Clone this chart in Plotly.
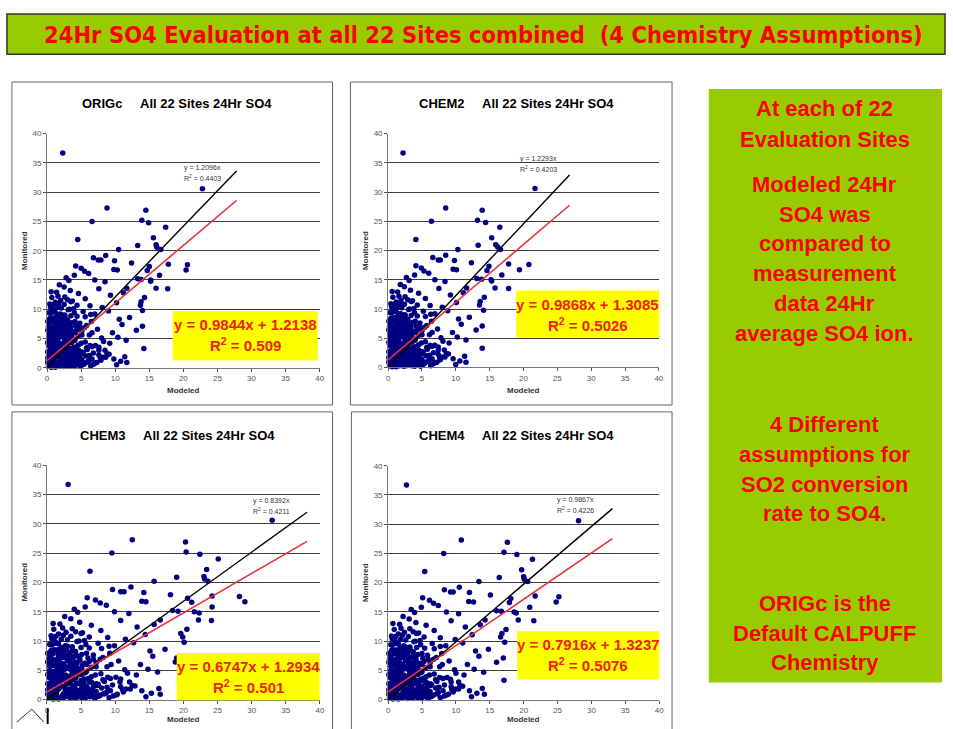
import plotly.graph_objects as go

# ---------------- DATA ----------------
panel_names = ["ORIGc", "CHEM2", "CHEM3", "CHEM4"]

# Monitored 24Hr SO4 (shared by all panels)
monitored = [
    36.7, 30.6, 27.3, 26.9, 25.0, 25.2, 24.8, 24.0, 21.9, 20.9,
    22.2, 21.0, 20.6, 20.2, 20.2, 17.6, 16.7, 17.7, 13.5, 15.8,
    17.3, 16.6, 15.1, 15.0, 14.8, 13.6, 13.6, 15.2, 17.9, 3.3,
    8.6, 6.4, 11.3, 10.7, 12.0, 1.9, 4.7, 7.1, 9.8, 12.8,
    18.3, 16.8, 16.7, 19.2, 18.4, 18.4, 18.8, 17.4, 12.9, 10.8,
    13.8, 14.9, 15.8, 16.5, 17.0, 16.1, 14.7, 15.0, 13.5, 12.4,
    11.1, 10.3, 9.7, 8.3, 7.4, 6.0, 5.2, 4.2, 3.0, 1.5,
    2.2, 0.6, 1.2, 3.8, 5.1, 6.6, 7.9, 9.2, 10.6, 11.8,
    12.7, 11.4, 13.2, 12.1, 10.2, 11.0, 9.6, 8.8, 9.9, 8.1,
    7.2, 6.3, 5.6, 4.4, 3.1, 2.4, 1.6, 0.8, 3.6, 2.0,
    0.3, 0.5, 0.9, 1.1, 0.4, 0.7, 1.4, 1.8, 1.5, 1.0,
    0.6, 1.3, 2.1, 2.5, 2.3, 2.8, 2.0, 2.6, 1.7, 3.0,
    3.3, 3.5, 3.2, 3.7, 3.0, 3.9, 4.1, 4.3, 4.0, 4.5,
    4.8, 5.0, 5.3, 4.9, 5.4, 5.7, 5.9, 6.1, 5.8, 6.4,
    6.8, 7.0, 6.6, 7.3, 7.6, 7.8, 8.0, 8.5, 8.9, 9.3,
    9.5, 2.9, 1.2, 0.5, 0.2, 0.3, 2.7, 1.9, 3.4, 4.6,
    6.0, 7.0, 8.2, 6.9, 5.5, 8.6, 9.0, 10.0, 4.2, 1.0,
    0.2, 0.4, 0.6, 0.8, 1.0, 1.2, 1.4, 1.6, 1.8, 2.0,
    2.2, 2.4, 2.6, 2.8, 3.0, 3.2, 3.4, 3.6, 3.8, 4.0,
    4.2, 4.4, 4.6, 4.8, 5.0, 5.2, 5.4, 5.6, 5.8, 6.0,
    6.2, 6.4, 6.6, 6.8, 7.0, 7.2, 7.4, 7.6, 7.8, 8.0,
    0.3, 0.7, 1.1, 1.5, 1.9, 2.3, 2.7, 3.1, 3.5, 3.9,
    0.5, 1.0, 1.5, 2.0, 2.5, 3.0, 0.9, 1.8, 2.7, 3.6,
    8.4, 8.8, 9.2, 9.6, 10.0, 10.4, 10.8, 11.2, 11.6, 12.0,
    0.1, 0.3, 0.5, 0.8, 1.3, 0.2, 0.6, 1.0, 0.4, 0.9,
    4.3, 4.7, 5.1, 5.5, 5.9, 6.3, 6.7, 7.1, 7.5, 7.9,
    0.1, 0.4, 0.7, 1.0, 1.3, 1.6, 1.9, 2.2, 2.5, 2.8,
    3.1, 3.4, 3.7, 4.0, 4.3, 4.6, 4.9, 5.2, 5.5, 5.8,
    6.1, 6.4, 6.7, 7.0, 7.3, 7.6, 7.9, 8.2, 8.5, 8.8,
    9.1, 9.4, 9.7, 10.3, 10.9, 11.5, 12.2, 13.0, 14.2, 15.4,
    0.2, 0.6, 1.0, 1.4, 1.8, 2.2, 2.6, 3.0, 3.4, 3.8,
    0.3, 0.8, 1.3, 1.8, 2.3, 0.5, 1.1, 1.7, 2.4, 0.9,
    1.2, 1.7, 2.2, 2.7, 3.2, 3.7, 4.2, 4.7, 5.2, 5.7,
    0.8, 1.3, 1.8, 2.3, 2.8, 3.3, 3.8, 4.3, 4.8, 5.3,
    6.2, 6.5, 7.1, 7.7, 8.3, 8.9, 9.4, 10.1, 10.7, 11.3,
    5.6, 6.0, 6.9, 7.6, 8.7, 9.1, 3.5, 4.5, 2.1, 1.4,
]

modeled_origc = [
    2.3, 22.8, 8.8, 14.5, 6.6, 13.9, 14.9, 17.4, 4.5, 13.3,
    15.6, 16.0, 16.1, 16.7, 10.5, 20.6, 20.4, 17.8, 17.7, 16.5,
    15.0, 14.7, 13.8, 15.2, 15.2, 16.0, 11.7, 13.3, 12.4, 14.2,
    12.1, 13.1, 13.8, 13.7, 14.3, 11.4, 11.6, 14.0, 14.0, 11.2,
    9.9, 9.8, 10.3, 8.6, 7.9, 7.5, 6.8, 4.2, 1.4, 0.9,
    2.5, 3.2, 4.0, 5.5, 5.0, 6.1, 8.5, 7.0, 7.6, 9.3,
    10.2, 8.1, 9.0, 10.6, 11.0, 9.6, 10.4, 9.2, 8.5, 9.8,
    7.6, 6.8, 6.1, 7.1, 8.0, 7.4, 6.5, 7.0, 6.3, 5.6,
    4.6, 3.7, 3.4, 2.6, 2.1, 1.7, 5.3, 4.4, 3.1, 2.4,
    5.8, 5.1, 6.2, 5.6, 5.9, 5.2, 4.7, 5.5, 4.3, 3.9,
    0.2, 0.6, 0.3, 1.0, 1.4, 2.0, 0.5, 1.2, 1.9, 2.6,
    3.1, 3.5, 0.3, 0.8, 1.5, 2.2, 2.9, 3.6, 4.2, 0.5,
    1.1, 1.8, 2.5, 3.0, 3.8, 0.2, 0.9, 1.6, 2.3, 3.3,
    0.6, 1.3, 2.0, 2.7, 3.6, 0.3, 1.0, 1.7, 2.4, 3.0,
    0.7, 1.4, 2.1, 2.8, 0.4, 1.1, 1.8, 0.8, 1.5, 0.5,
    1.2, 4.6, 4.0, 4.5, 2.4, 1.7, 0.1, 0.7, 2.7, 4.0,
    4.1, 3.4, 3.0, 4.8, 4.6, 2.0, 2.6, 0.8, 5.0, 5.9,
    0.9, 1.6, 2.3, 0.4, 1.7, 2.4, 3.0, 0.3, 2.2, 1.0,
    1.8, 2.6, 1.3, 3.2, 2.0, 0.7, 1.4, 2.2, 0.5, 1.2,
    1.9, 0.4, 2.6, 1.5, 0.3, 2.4, 1.0, 1.9, 0.6, 2.6,
    0.3, 1.3, 1.0, 2.1, 0.2, 1.8, 1.2, 2.3, 0.6, 1.4,
    3.6, 3.9, 3.3, 2.9, 3.6, 4.1, 3.3, 4.4, 3.9, 4.6,
    5.2, 6.0, 6.6, 5.7, 6.8, 7.6, 7.3, 8.2, 5.1, 6.6,
    0.4, 2.6, 1.9, 0.9, 3.3, 0.5, 2.5, 1.2, 3.0, 0.7,
    1.2, 2.8, 1.9, 3.4, 0.2, 4.0, 4.8, 4.3, 3.1, 0.1,
    3.6, 3.0, 3.3, 2.9, 3.7, 2.5, 3.4, 2.6, 3.1, 4.1,
    0.6, 1.1, 1.6, 2.1, 2.6, 3.1, 3.6, 4.1, 0.4, 0.9,
    1.4, 1.9, 2.4, 2.9, 0.1, 0.6, 1.1, 1.6, 2.1, 2.6,
    3.1, 0.1, 0.6, 1.1, 1.6, 2.1, 0.1, 0.6, 1.1, 1.6,
    2.1, 0.3, 1.0, 1.5, 0.4, 2.0, 1.6, 0.6, 1.8, 2.8,
    4.9, 5.4, 4.6, 5.1, 4.3, 4.8, 5.3, 4.6, 5.8, 6.3,
    6.4, 7.1, 7.9, 8.6, 9.1, 10.2, 10.8, 7.8, 8.8, 11.7,
    0.2, 0.1, 0.5, 0.2, 0.8, 0.3, 1.3, 0.9, 1.8, 1.4,
    2.8, 3.3, 2.6, 3.8, 3.0, 3.5, 2.0, 2.9, 4.1, 3.2,
    3.9, 4.4, 4.2, 3.6, 2.7, 3.5, 4.0, 3.9, 4.4, 3.5,
    5.1, 6.6, 5.5, 4.8, 5.6, 6.4, 7.6, 8.3, 6.2, 3.0,
]

modeled_chem2 = [
    2.2, 21.7, 8.5, 13.9, 6.4, 13.2, 14.4, 16.5, 4.1, 13.3,
    15.3, 15.9, 16.2, 16.6, 10.3, 20.8, 19.4, 17.8, 17.8, 16.8,
    14.9, 14.6, 13.8, 15.2, 15.3, 15.8, 11.6, 13.1, 12.3, 13.9,
    12.0, 13.0, 13.6, 13.5, 14.2, 11.3, 11.5, 13.9, 14.1, 11.1,
    9.8, 9.6, 10.1, 8.5, 7.7, 7.4, 6.6, 4.1, 1.4, 0.9,
    2.4, 3.1, 3.9, 5.3, 4.9, 6.0, 8.4, 6.9, 7.5, 9.2,
    10.1, 8.0, 8.8, 10.4, 10.8, 9.5, 10.2, 9.0, 8.3, 9.6,
    7.4, 6.6, 6.0, 6.9, 7.8, 7.3, 6.4, 6.9, 6.2, 5.5,
    4.5, 3.6, 3.3, 2.5, 2.0, 1.7, 5.2, 4.3, 3.0, 2.3,
    5.7, 5.0, 6.1, 5.5, 5.8, 5.1, 4.6, 5.4, 4.2, 3.8,
    0.2, 0.6, 0.3, 1.0, 1.4, 1.9, 0.5, 1.2, 1.8, 2.5,
    3.0, 3.4, 0.3, 0.8, 1.5, 2.1, 2.8, 3.5, 4.1, 0.5,
    1.1, 1.8, 2.4, 2.9, 3.7, 0.2, 0.9, 1.6, 2.2, 3.2,
    0.6, 1.3, 2.0, 2.6, 3.5, 0.3, 1.0, 1.7, 2.3, 2.9,
    0.7, 1.4, 2.0, 2.7, 0.4, 1.1, 1.8, 0.8, 1.5, 0.5,
    1.2, 4.5, 3.9, 4.4, 2.3, 1.7, 0.1, 0.7, 2.6, 3.9,
    4.0, 3.3, 2.9, 4.7, 4.5, 2.0, 2.5, 0.8, 4.9, 5.8,
    0.9, 1.6, 2.2, 0.4, 1.7, 2.3, 2.9, 0.3, 2.1, 1.0,
    1.8, 2.5, 1.3, 3.1, 1.9, 0.7, 1.4, 2.1, 0.5, 1.2,
    1.8, 0.4, 2.5, 1.5, 0.3, 2.3, 1.0, 1.8, 0.6, 2.5,
    0.3, 1.3, 1.0, 2.0, 0.2, 1.8, 1.2, 2.2, 0.6, 1.4,
    3.5, 3.8, 3.2, 2.8, 3.5, 4.0, 3.2, 4.3, 3.8, 4.5,
    5.1, 5.9, 6.5, 5.6, 6.7, 7.4, 7.2, 8.0, 5.0, 6.5,
    0.4, 2.5, 1.8, 0.9, 3.2, 0.5, 2.4, 1.2, 2.9, 0.7,
    1.2, 2.7, 1.8, 3.3, 0.2, 3.9, 4.7, 4.2, 3.0, 0.1,
    3.5, 2.9, 3.2, 2.8, 3.6, 2.4, 3.3, 2.5, 3.0, 4.0,
    0.6, 1.1, 1.6, 2.0, 2.5, 3.0, 3.5, 4.0, 0.4, 0.9,
    1.4, 1.9, 2.3, 2.8, 0.1, 0.6, 1.1, 1.6, 2.0, 2.5,
    3.0, 0.1, 0.6, 1.1, 1.6, 2.0, 0.1, 0.6, 1.1, 1.6,
    2.0, 0.3, 1.0, 1.5, 0.4, 1.9, 1.6, 0.6, 1.8, 2.7,
    4.8, 5.3, 4.5, 5.0, 4.2, 4.7, 5.2, 4.5, 5.7, 6.2,
    6.3, 7.0, 7.7, 8.4, 8.9, 10.0, 10.6, 7.6, 8.6, 11.5,
    0.2, 0.1, 0.5, 0.2, 0.8, 0.3, 1.3, 0.9, 1.8, 1.4,
    2.7, 3.2, 2.5, 3.7, 2.9, 3.4, 2.0, 2.8, 4.0, 3.1,
    3.8, 4.3, 4.1, 3.5, 2.6, 3.4, 3.9, 3.8, 4.3, 3.4,
    5.0, 6.5, 5.4, 4.7, 5.5, 6.3, 7.4, 8.1, 6.1, 2.9,
]

modeled_chem3 = [
    3.1, 33.0, 12.5, 20.3, 9.5, 20.4, 22.4, 25.1, 6.3, 19.0,
    23.4, 23.0, 23.1, 23.6, 15.7, 28.2, 29.0, 24.2, 24.1, 24.2,
    20.6, 21.2, 19.2, 21.6, 22.3, 22.2, 16.6, 18.4, 18.1, 20.6,
    17.3, 18.8, 19.6, 19.9, 20.5, 16.4, 16.2, 19.0, 20.1, 15.7,
    14.2, 13.9, 14.5, 12.3, 11.3, 10.8, 9.6, 5.9, 1.9, 1.3,
    3.5, 4.5, 5.6, 7.8, 7.1, 8.7, 12.0, 9.9, 10.8, 13.2,
    14.4, 11.5, 12.7, 15.1, 15.5, 13.7, 14.8, 13.1, 12.1, 13.9,
    10.8, 9.7, 8.7, 10.1, 11.4, 10.5, 9.2, 9.9, 8.9, 7.9,
    6.5, 5.2, 4.8, 3.7, 3.0, 2.4, 7.5, 6.2, 4.4, 3.4,
    8.2, 7.2, 8.8, 7.9, 8.4, 7.4, 6.7, 7.8, 6.1, 5.5,
    0.3, 0.8, 0.4, 1.4, 2.0, 2.8, 0.7, 1.7, 2.7, 3.7,
    4.4, 5.0, 0.4, 1.1, 2.1, 3.1, 4.1, 5.1, 5.9, 0.7,
    1.6, 2.5, 3.5, 4.2, 5.4, 0.3, 1.3, 2.3, 3.2, 4.7,
    0.8, 1.8, 2.8, 3.8, 5.1, 0.4, 1.4, 2.4, 3.4, 4.2,
    1.0, 2.0, 3.0, 3.9, 0.6, 1.6, 2.5, 1.1, 2.1, 0.7,
    1.7, 6.5, 5.6, 6.3, 3.4, 2.4, 0.1, 1.0, 3.8, 5.6,
    5.8, 4.8, 4.2, 6.8, 6.5, 2.8, 3.7, 1.1, 7.1, 8.3,
    1.3, 2.2, 3.3, 0.6, 2.4, 3.4, 4.3, 0.4, 3.1, 1.4,
    2.5, 3.7, 1.8, 4.5, 2.8, 1.0, 2.0, 3.1, 0.7, 1.7,
    2.7, 0.6, 3.7, 2.1, 0.4, 3.4, 1.4, 2.7, 0.8, 3.7,
    0.4, 1.8, 1.4, 3.0, 0.3, 2.5, 1.7, 3.3, 0.8, 2.0,
    5.1, 5.5, 4.7, 4.1, 5.1, 5.8, 4.7, 6.2, 5.5, 6.5,
    7.3, 8.5, 9.3, 8.0, 9.6, 10.7, 10.3, 11.6, 7.2, 9.3,
    0.6, 3.7, 2.7, 1.3, 4.7, 0.7, 3.5, 1.7, 4.2, 1.0,
    1.7, 4.0, 2.7, 4.8, 0.3, 5.6, 6.8, 6.1, 4.4, 0.1,
    5.1, 4.2, 4.7, 4.1, 5.2, 3.5, 4.8, 3.7, 4.4, 5.8,
    0.9, 1.6, 2.3, 3.0, 3.7, 4.4, 5.1, 5.8, 0.6, 1.3,
    2.0, 2.7, 3.4, 4.1, 0.1, 0.9, 1.6, 2.3, 3.0, 3.7,
    4.4, 0.1, 0.9, 1.6, 2.3, 3.0, 0.1, 0.9, 1.6, 2.3,
    3.0, 0.4, 1.4, 2.1, 0.6, 2.8, 2.3, 0.9, 2.6, 4.0,
    7.0, 7.7, 6.5, 7.2, 6.1, 6.8, 7.5, 6.5, 8.2, 8.9,
    9.1, 10.1, 11.2, 12.2, 12.9, 14.5, 15.3, 11.1, 12.5, 16.6,
    0.3, 0.1, 0.7, 0.3, 1.1, 0.4, 1.8, 1.3, 2.6, 2.0,
    4.0, 4.7, 3.7, 5.4, 4.3, 5.0, 2.8, 4.1, 5.8, 4.5,
    5.5, 6.2, 6.0, 5.1, 3.8, 5.0, 5.7, 5.5, 6.2, 5.0,
    7.2, 9.4, 7.8, 6.8, 8.0, 9.1, 10.8, 11.8, 8.8, 4.3,
]

modeled_chem4 = [
    2.7, 28.1, 10.8, 17.6, 8.2, 17.1, 19.0, 21.3, 5.4, 16.4,
    19.7, 20.0, 20.1, 20.6, 13.4, 25.2, 24.8, 21.7, 21.5, 20.9,
    18.1, 17.9, 16.7, 18.6, 18.9, 19.2, 14.3, 16.0, 15.1, 17.1,
    14.8, 16.0, 16.8, 16.6, 17.4, 13.9, 14.1, 17.0, 17.2, 13.6,
    12.0, 11.9, 12.6, 10.5, 9.6, 9.2, 8.3, 5.1, 1.7, 1.1,
    3.1, 3.9, 4.9, 6.7, 6.1, 7.4, 10.4, 8.6, 9.3, 11.4,
    12.4, 9.9, 11.0, 12.9, 13.4, 11.7, 12.7, 11.2, 10.4, 12.0,
    9.3, 8.3, 7.4, 8.7, 9.8, 9.0, 7.9, 8.5, 7.7, 6.8,
    5.6, 4.5, 4.1, 3.2, 2.6, 2.1, 6.5, 5.4, 3.8, 2.9,
    7.1, 6.2, 7.6, 6.8, 7.2, 6.3, 5.7, 6.7, 5.2, 4.8,
    0.2, 0.7, 0.4, 1.2, 1.7, 2.4, 0.6, 1.5, 2.3, 3.2,
    3.8, 4.3, 0.4, 1.0, 1.8, 2.7, 3.5, 4.4, 5.1, 0.6,
    1.3, 2.2, 3.0, 3.7, 4.6, 0.2, 1.1, 2.0, 2.8, 4.0,
    0.7, 1.6, 2.4, 3.3, 4.4, 0.4, 1.2, 2.1, 2.9, 3.7,
    0.9, 1.7, 2.6, 3.4, 0.5, 1.3, 2.2, 1.0, 1.8, 0.6,
    1.5, 5.6, 4.9, 5.5, 2.9, 2.1, 0.1, 0.9, 3.3, 4.9,
    5.0, 4.1, 3.7, 5.9, 5.6, 2.4, 3.2, 1.0, 6.1, 7.2,
    1.1, 1.9, 2.8, 0.5, 2.0, 2.9, 3.6, 0.4, 2.7, 1.2,
    2.2, 3.2, 1.6, 3.9, 2.4, 0.8, 1.7, 2.7, 0.6, 1.5,
    2.3, 0.5, 3.2, 1.8, 0.4, 2.9, 1.2, 2.3, 0.7, 3.2,
    0.4, 1.6, 1.2, 2.6, 0.2, 2.2, 1.5, 2.8, 0.7, 1.7,
    4.4, 4.8, 4.0, 3.5, 4.4, 5.0, 4.0, 5.4, 4.8, 5.6,
    6.3, 7.3, 8.1, 7.0, 8.3, 9.3, 8.9, 10.0, 6.2, 8.1,
    0.5, 3.2, 2.3, 1.1, 4.0, 0.6, 3.0, 1.5, 3.7, 0.9,
    1.5, 3.4, 2.3, 4.1, 0.2, 4.9, 5.9, 5.2, 3.8, 0.1,
    4.4, 3.7, 4.0, 3.5, 4.5, 3.1, 4.1, 3.2, 3.8, 5.0,
    0.7, 1.3, 1.9, 2.5, 3.1, 3.8, 4.4, 5.0, 0.5, 1.1,
    1.7, 2.3, 2.9, 3.5, 0.1, 0.7, 1.3, 1.9, 2.5, 3.1,
    3.8, 0.1, 0.7, 1.3, 1.9, 2.5, 0.1, 0.7, 1.3, 1.9,
    2.5, 0.4, 1.2, 1.8, 0.5, 2.4, 1.9, 0.7, 2.2, 3.4,
    5.9, 6.5, 5.6, 6.2, 5.2, 5.8, 6.4, 5.6, 7.0, 7.6,
    7.7, 8.6, 9.6, 10.4, 11.0, 12.3, 13.1, 9.4, 10.6, 14.2,
    0.2, 0.1, 0.6, 0.2, 1.0, 0.4, 1.6, 1.1, 2.2, 1.7,
    3.4, 4.0, 3.1, 4.6, 3.6, 4.2, 2.4, 3.5, 5.0, 3.9,
    4.7, 5.3, 5.1, 4.4, 3.3, 4.2, 4.8, 4.7, 5.3, 4.2,
    6.2, 8.0, 6.7, 5.8, 6.8, 7.7, 9.2, 10.0, 7.5, 3.6,
]

# Linear fit (red) and through-origin fit (black)
fit_slope = [0.9844, 0.9868, 0.6747, 0.7916]
fit_intercept = [1.2138, 1.3085, 1.2934, 1.3237]
fit_r2 = ["0.509", "0.5026", "0.501", "0.5076"]
origin_slope = [1.2096, 1.2293, 0.8392, 0.9867]
origin_r2 = ["0.4403", "0.4203", "0.4211", "0.4226"]
fit_x_max = [27.8, 26.8, 38.1, 33.1]

axis_ticks = [0, 5, 10, 15, 20, 25, 30, 35, 40]

modeled_all = [modeled_origc, modeled_chem2, modeled_chem3, modeled_chem4]
for m in modeled_all:
    assert len(m) == len(monitored)

# ---------------- LAYOUT ----------------
W, H = 953, 729
def fx(p):
    return p / W
def fy(p):
    return 1 - p / H

RED = "#ff0000"
GREEN = "#99cc00"
SANS = "Liberation Sans, Arial, sans-serif"
NARROW = "Liberation Sans Narrow, Arial Narrow, DejaVu Sans Condensed, sans-serif"

panels = [
    dict(plot_x=(45.4, 320.0), plot_y=(131.3, 368.3), box=(10, 79, 333, 406),
         title_y=101, eq=(172, 311, 318, 361), lab=(181, 166)),
    dict(plot_x=(389.0, 661.7), plot_y=(131.3, 368.0), box=(351, 79, 675, 406),
         title_y=101, eq=(518, 290, 662, 338), lab=(520, 157)),
    dict(plot_x=(45.3, 320.3), plot_y=(467.0, 704.3), box=(10, 413, 333, 740),
         title_y=437, eq=(176, 657, 320, 705), lab=(251, 503)),
    dict(plot_x=(389.0, 662.0), plot_y=(467.5, 704.3), box=(352, 413, 675, 740),
         title_y=437, eq=(519, 635, 662, 684), lab=(557, 502)),
]

fig = go.Figure()
shapes = []
annotations = []

# title bar
shapes.append(dict(type="rect", xref="paper", yref="paper",
                   x0=fx(5), x1=fx(950), y0=fy(51), y1=fy(10),
                   fillcolor=GREEN, line=dict(color="#333333", width=1.5), layer="below"))
annotations.append(dict(xref="paper", yref="paper", x=fx(485), y=fy(31),
                        text="<b>24Hr SO4 Evaluation at all 22 Sites combined&nbsp; (4 Chemistry Assumptions)</b>",
                        showarrow=False, xanchor="center", yanchor="middle",
                        font=dict(family=NARROW, size=23.5, color=RED)))

# right green box
shapes.append(dict(type="rect", xref="paper", yref="paper",
                   x0=fx(712), x1=fx(947), y0=fy(687), y1=fy(86),
                   fillcolor=GREEN, line=dict(width=0), layer="below"))
right_lines = [
    ("At each of 22", 106), ("Evaluation Sites", 137),
    ("Modeled 24Hr", 183), ("SO4 was", 213), ("compared to", 243),
    ("measurement", 273), ("data 24Hr", 303), ("average SO4 ion.", 334),
    ("4 Different", 426), ("assumptions for", 456), ("SO2 conversion", 486),
    ("rate to SO4.", 516),
    ("ORIGc is the", 607), ("Default CALPUFF", 637), ("Chemistry", 667),
]
for txt, yy in right_lines:
    annotations.append(dict(xref="paper", yref="paper", x=fx(829), y=fy(yy),
                            text="<b>%s</b>" % txt, showarrow=False,
                            xanchor="center", yanchor="middle",
                            font=dict(family=SANS, size=22, color=RED)))

for i, p in enumerate(panels):
    sfx = "" if i == 0 else str(i + 1)
    xa, ya = "x" + sfx, "y" + sfx
    bx0, by0, bx1, by1 = p["box"]
    shapes.append(dict(type="rect", xref="paper", yref="paper",
                       x0=fx(bx0), x1=fx(bx1), y0=fy(by1), y1=fy(by0),
                       fillcolor="white", line=dict(color="#666666", width=1), layer="below"))
    xd = [fx(p["plot_x"][0]), fx(p["plot_x"][1])]
    yd = [fy(p["plot_y"][1]), fy(p["plot_y"][0])]
    axcommon = dict(range=[0, 40], tickvals=axis_ticks, ticks="outside", ticklen=3,
                    tickcolor="#555555", tickfont=dict(family=SANS, size=8, color="#555555"),
                    showline=True, linecolor="#777777", linewidth=1, zeroline=False,
                    fixedrange=True)
    fig.update_layout(**{
        ("xaxis" + sfx): dict(domain=xd, anchor=ya, showgrid=False, **axcommon),
        ("yaxis" + sfx): dict(domain=yd, anchor=xa, showgrid=True, gridcolor="#3c3c3c",
                              gridwidth=1.3, **axcommon),
    })

    # scatter
    fig.add_trace(go.Scatter(x=modeled_all[i], y=monitored, mode="markers",
                             marker=dict(color="#000080", size=5.5, symbol="circle"),
                             xaxis=xa, yaxis=ya, showlegend=False, cliponaxis=False))
    xe = fit_x_max[i]
    # black through-origin trendline
    fig.add_trace(go.Scatter(x=[0, xe], y=[0, origin_slope[i] * xe], mode="lines",
                             line=dict(color="black", width=1.4),
                             xaxis=xa, yaxis=ya, showlegend=False))
    # red linear trendline
    fig.add_trace(go.Scatter(x=[0, xe], y=[fit_intercept[i], fit_slope[i] * xe + fit_intercept[i]],
                             mode="lines", line=dict(color="#e8303a", width=1.6),
                             xaxis=xa, yaxis=ya, showlegend=False))

    # panel title
    cx = (bx0 + bx1) / 2 + 5
    annotations.append(dict(xref="paper", yref="paper", x=fx(cx), y=fy(p["title_y"]),
                            text="<b>%s\u00a0\u00a0\u00a0\u00a0 All 22 Sites 24Hr SO4</b>" % panel_names[i],
                            showarrow=False, xanchor="center", yanchor="middle",
                            font=dict(family=SANS, size=13, color="black")))
    # axis titles
    pcx = (p["plot_x"][0] + p["plot_x"][1]) / 2
    annotations.append(dict(xref="paper", yref="paper", x=fx(pcx), y=fy(min(p["plot_y"][1] + 23, 724)),
                            text="<b>Modeled</b>", showarrow=False,
                            xanchor="center", yanchor="middle",
                            font=dict(family=SANS, size=8, color="#333333")))
    pcy = (p["plot_y"][0] + p["plot_y"][1]) / 2
    annotations.append(dict(xref="paper", yref="paper", x=fx(p["plot_x"][0] - 23), y=fy(pcy),
                            text="<b>Monitored</b>", showarrow=False, textangle=-90,
                            xanchor="center", yanchor="middle",
                            font=dict(family=SANS, size=8, color="#333333")))
    # yellow equation box
    ex0, ey0, ex1, ey1 = p["eq"]
    shapes.append(dict(type="rect", xref="paper", yref="paper",
                       x0=fx(ex0), x1=fx(ex1), y0=fy(ey1), y1=fy(ey0),
                       fillcolor="#ffff00", line=dict(width=0)))
    ecx = (ex0 + ex1) / 2
    annotations.append(dict(xref="paper", yref="paper", x=fx(ecx), y=fy(ey0 + 14),
                            text="<b>y = %.4fx + %.4f</b>" % (fit_slope[i], fit_intercept[i]),
                            showarrow=False, xanchor="center", yanchor="middle",
                            font=dict(family=SANS, size=15, color="#ee2200")))
    annotations.append(dict(xref="paper", yref="paper", x=fx(ecx), y=fy(ey0 + 34),
                            text="<b>R<sup>2</sup> = %s</b>" % fit_r2[i],
                            showarrow=False, xanchor="center", yanchor="middle",
                            font=dict(family=SANS, size=15, color="#ee2200")))
    # small trendline label
    lx, ly = p["lab"]
    annotations.append(dict(xref="paper", yref="paper", x=fx(lx), y=fy(ly),
                            text="y = %.4fx" % origin_slope[i], showarrow=False,
                            xanchor="left", yanchor="middle",
                            font=dict(family=SANS, size=7, color="#333333")))
    annotations.append(dict(xref="paper", yref="paper", x=fx(lx), y=fy(ly + 10),
                            text="R<sup>2</sup> = %s" % origin_r2[i], showarrow=False,
                            xanchor="left", yanchor="middle",
                            font=dict(family=SANS, size=7, color="#333333")))

# small icon at bottom-left
shapes.append(dict(type="path", xref="paper", yref="paper",
                   path="M %f %f L %f %f L %f %f" % (fx(15), fy(727), fx(30), fy(714), fx(42), fy(727)),
                   line=dict(color="#333333", width=1)))
shapes.append(dict(type="line", xref="paper", yref="paper",
                   x0=fx(46), x1=fx(46), y0=fy(729), y1=fy(713),
                   line=dict(color="black", width=2)))

fig.update_layout(width=W, height=H, margin=dict(l=0, r=0, t=0, b=0),
                  paper_bgcolor="white", plot_bgcolor="#c0c0c0",
                  shapes=shapes, annotations=annotations, showlegend=False)

fig.write_html("out.html")
